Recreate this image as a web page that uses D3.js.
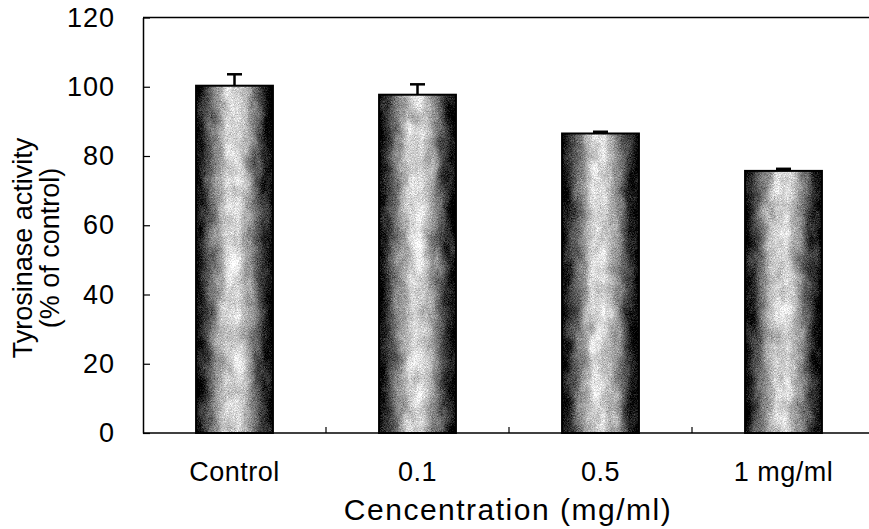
<!DOCTYPE html>
<html>
<head>
<meta charset="utf-8">
<script src="https://cdn.jsdelivr.net/npm/d3@7.9.0/dist/d3.min.js"></script>
<style>
  html, body { margin: 0; padding: 0; background: #fff; }
  svg { display: block; font-family: "Liberation Sans", Arial, sans-serif; }
</style>
</head>
<body>
<div id="chart"></div>
<script>
const categories = ['Control', '0.1', '0.5', '1 mg/ml'];
const values = [100.3, 97.7, 86.5, 75.7];
const errors = [3.3, 3.0, 0.5, 0.6];
const yTicks = [0, 20, 40, 60, 80, 100, 120];

const width = 869;
const height = 529;
const margin = { top: 17.5, right: -6, bottom: 96, left: 143 };

const svg = d3.select('#chart')
  .append('svg')
  .attr('width', width)
  .attr('height', height);

const defs = svg.append('defs');

// dark edges, light centre
const grad = defs.append('linearGradient')
  .attr('id', 'barGrad')
  .attr('x1', '0%').attr('x2', '100%')
  .attr('y1', '0%').attr('y2', '0%');
[[0, '#000'], [0.08, '#222'], [0.22, '#737373'], [0.4, '#cdcdcd'], [0.55, '#d6d6d6'],
 [0.72, '#8a8a8a'], [0.88, '#2a2a2a'], [1, '#000']].forEach(([o, c]) => {
  grad.append('stop').attr('offset', o).attr('stop-color', c);
});

// speckled print texture
const gray1 = '0.33 0.33 0.33 0 0  0.33 0.33 0.33 0 0  0.33 0.33 0.33 0 0  0 0 0 0 1';
const filt = defs.append('filter')
  .attr('id', 'grain')
  .attr('color-interpolation-filters', 'sRGB')
  .attr('x', 0).attr('y', 0).attr('width', '100%').attr('height', '100%');
filt.append('feTurbulence')
  .attr('type', 'fractalNoise')
  .attr('baseFrequency', '0.08 0.04')
  .attr('numOctaves', 2)
  .attr('seed', 4)
  .attr('result', 'blob');
filt.append('feColorMatrix')
  .attr('in', 'blob').attr('type', 'matrix').attr('values', gray1)
  .attr('result', 'blobG');
filt.append('feTurbulence')
  .attr('type', 'fractalNoise')
  .attr('baseFrequency', '1.3')
  .attr('numOctaves', 1)
  .attr('seed', 9)
  .attr('result', 'fine');
filt.append('feColorMatrix')
  .attr('in', 'fine').attr('type', 'matrix').attr('values', gray1)
  .attr('result', 'fineG');
filt.append('feComposite')
  .attr('in', 'blobG').attr('in2', 'fineG')
  .attr('operator', 'arithmetic')
  .attr('k1', 0).attr('k2', 0.4).attr('k3', 0.6).attr('k4', 0)
  .attr('result', 'noise');
filt.append('feComposite')
  .attr('in', 'SourceGraphic')
  .attr('in2', 'noise')
  .attr('operator', 'arithmetic')
  .attr('k1', 0).attr('k2', 1).attr('k3', 1.8).attr('k4', -0.88)
  .attr('result', 'mix');
filt.append('feComposite')
  .attr('in', 'mix')
  .attr('in2', 'SourceAlpha')
  .attr('operator', 'in');

const x = d3.scaleBand()
  .domain(categories)
  .range([margin.left, width - margin.right])
  .paddingInner(0.58)
  .paddingOuter(0.29);

const y = d3.scaleLinear()
  .domain([0, 120])
  .range([height - margin.bottom, margin.top]);

const data = categories.map((c, i) => ({ cat: c, value: values[i], err: errors[i] }));

// top frame line
svg.append('line')
  .attr('x1', margin.left).attr('x2', width)
  .attr('y1', y(120)).attr('y2', y(120))
  .attr('stroke', '#000').attr('stroke-width', 1.5);

// bars
svg.append('g')
  .selectAll('rect')
  .data(data)
  .join('rect')
  .attr('x', d => x(d.cat))
  .attr('y', d => y(d.value))
  .attr('width', x.bandwidth())
  .attr('height', d => y(0) - y(d.value))
  .attr('fill', 'url(#barGrad)')
  .attr('filter', 'url(#grain)');

svg.append('g')
  .selectAll('rect')
  .data(data)
  .join('rect')
  .attr('x', d => x(d.cat))
  .attr('y', d => y(d.value))
  .attr('width', x.bandwidth())
  .attr('height', d => y(0) - y(d.value))
  .attr('fill', 'none')
  .attr('stroke', '#000')
  .attr('stroke-width', 2);

// error bars
const eb = svg.append('g').attr('stroke', '#000').attr('stroke-width', 2.5);
eb.selectAll('line.v')
  .data(data)
  .join('line')
  .attr('class', 'v')
  .attr('x1', d => x(d.cat) + x.bandwidth() / 2)
  .attr('x2', d => x(d.cat) + x.bandwidth() / 2)
  .attr('y1', d => y(d.value))
  .attr('y2', d => y(d.value + d.err));
eb.selectAll('line.cap')
  .data(data)
  .join('line')
  .attr('class', 'cap')
  .attr('x1', d => x(d.cat) + x.bandwidth() / 2 - 7.5)
  .attr('x2', d => x(d.cat) + x.bandwidth() / 2 + 7.5)
  .attr('y1', d => y(d.value + d.err))
  .attr('y2', d => y(d.value + d.err));

// y axis, ticks inward
const yAxis = svg.append('g')
  .attr('transform', `translate(${margin.left},0)`)
  .call(d3.axisLeft(y).tickValues(yTicks).tickSize(-7).tickPadding(28).tickSizeOuter(0));
yAxis.select('.domain').attr('stroke-width', 1.5);
yAxis.selectAll('.tick line').attr('stroke-width', 1.2);
yAxis.selectAll('.tick text')
  .attr('font-size', 27)
  .attr('font-family', '"Liberation Sans", Arial, sans-serif')
  .attr('letter-spacing', 1)
  .attr('fill', '#000');

// x axis with labels, then boundary ticks pointing up
const xAxis = svg.append('g')
  .attr('transform', `translate(0,${y(0)})`)
  .call(d3.axisBottom(x).tickSize(0).tickPadding(29).tickSizeOuter(0));
xAxis.select('.domain')
  .attr('d', `M${margin.left},0H${width}`)
  .attr('stroke-width', 1.5);
xAxis.selectAll('.tick text')
  .attr('font-size', 27)
  .attr('letter-spacing', 0.5)
  .attr('font-family', '"Liberation Sans", Arial, sans-serif')
  .attr('fill', '#000');

const bounds = categories.slice(1).map(c => x(c) - x.step() * x.paddingInner() / 2);
svg.append('g')
  .selectAll('line')
  .data(bounds)
  .join('line')
  .attr('x1', d => d).attr('x2', d => d)
  .attr('y1', y(0)).attr('y2', y(0) - 6)
  .attr('stroke', '#000').attr('stroke-width', 1.2);

// axis titles
svg.append('text')
  .attr('x', (margin.left + width) / 2 + 2)
  .attr('y', 520)
  .attr('text-anchor', 'middle')
  .attr('font-size', 30)
  .attr('letter-spacing', 1.5)
  .text('Cencentration (mg/ml)');

const yt = svg.append('text')
  .attr('transform', 'translate(0,248) rotate(-90)')
  .attr('text-anchor', 'middle')
  .attr('font-size', 27);
yt.append('tspan').attr('x', 0).attr('y', 32).text('Tyrosinase activity');
yt.append('tspan').attr('x', 0).attr('y', 59).text('(% of control)');
</script>
</body>
</html>
